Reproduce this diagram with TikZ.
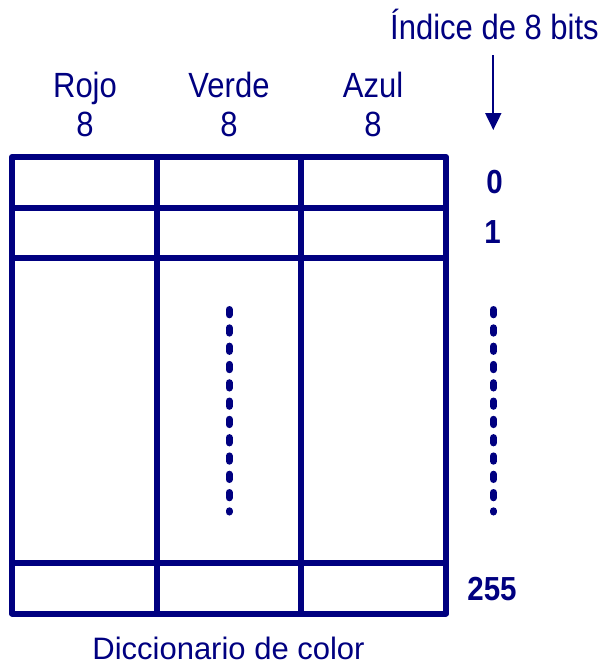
\documentclass[tikz,border=0pt]{standalone}
\usepackage{graphicx}
\usepackage{fontspec}
\setmainfont{Liberation Sans}
\usetikzlibrary{arrows.meta}
\definecolor{navy}{RGB}{0,0,128}
\newcommand{\talltext}[1]{\scalebox{1}[1.13]{#1}}
\begin{document}
\begin{tikzpicture}[x=1pt,y=-1pt,
  txt/.style={text=navy, font=\fontsize{31}{33}\selectfont, inner sep=0pt, anchor=base},
  num/.style={text=navy, font=\fontsize{29.5}{32}\selectfont\bfseries, inner sep=0pt, anchor=base},
  gridline/.style={draw=navy, line width=6pt, line cap=rect, line join=round},
  dotline/.style={draw=navy, line width=7pt, line cap=round, dash pattern=on 5.3pt off 13pt},
  arr/.style={draw=navy, line width=2pt, -{Triangle[length=17pt,width=16pt]}}]
\useasboundingbox (0,0) rectangle (605,665);
% table
\coordinate (tl) at (12,157);
\coordinate (br) at (446,613.5);
\draw[gridline] (tl) rectangle (br);
\coordinate (c1t) at (157,157); \coordinate (c1b) at (157,613.5);
\coordinate (c2t) at (301,157); \coordinate (c2b) at (301,613.5);
\draw[gridline] (c1t) -- (c1b);
\draw[gridline] (c2t) -- (c2b);
\coordinate (r1l) at (12,208); \coordinate (r1r) at (446,208);
\coordinate (r2l) at (12,258); \coordinate (r2r) at (446,258);
\coordinate (r3l) at (12,563); \coordinate (r3r) at (446,563);
\draw[gridline] (r1l) -- (r1r);
\draw[gridline] (r2l) -- (r2r);
\draw[gridline] (r3l) -- (r3r);
% dotted lines
\coordinate (d1t) at (229.2,309.5); \coordinate (d1b) at (229.2,512);
\coordinate (d2t) at (493.5,309.5); \coordinate (d2b) at (493.5,512);
\draw[dotline] (d1t) -- (d1b);
\draw[dotline] (d2t) -- (d2b);
% header labels
\node[txt] (rojo) at (85,97) {\talltext{Rojo}};
\node[txt] (verde) at (229,97) {\talltext{Verde}};
\node[txt] (azul) at (373,97) {\talltext{Azul}};
\node[txt] (n1) at (85,136) {\talltext{8}};
\node[txt] (n2) at (229,136) {\talltext{8}};
\node[txt] (n3) at (373,136) {\talltext{8}};
% index
\node[txt] (idx) at (494.5,39) {\talltext{Índice de 8 bits}};
\coordinate (as) at (493.3,55);
\coordinate (ae) at (493.3,130);
\draw[arr] (as) -- (ae);
\node[num] (i0) at (494.5,193) {\talltext{0}};
\node[num] (i1) at (492.5,243) {\talltext{1}};
\node[num] (i255) at (492,600) {\talltext{255}};
% caption
\node[txt] (cap) at (228.5,659) {Diccionario de color};
\end{tikzpicture}
\end{document}
